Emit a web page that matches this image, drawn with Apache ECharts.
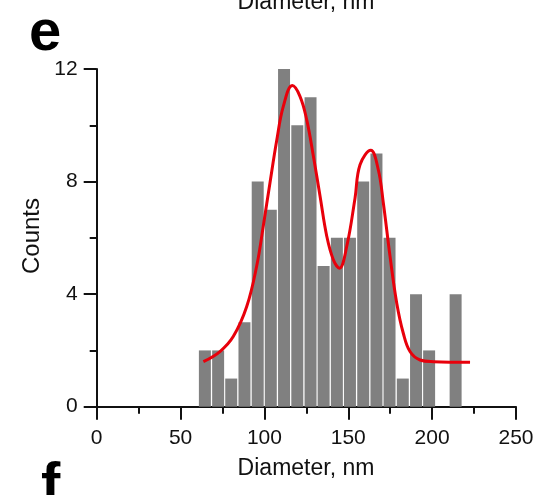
<!DOCTYPE html>
<html>
<head>
<meta charset="utf-8">
<script src="https://cdn.jsdelivr.net/npm/echarts@6/dist/echarts.min.js"></script>
<style>
  html, body { margin: 0; padding: 0; background: #fff; }
  #chart { width: 539px; height: 495px; }
</style>
</head>
<body>
<div id="chart"></div>
<script>
// histogram bins (nm) and counts
var binCenters = [64.5, 72.4, 80.2, 88.1, 96.0, 103.8, 111.7, 119.6, 127.5, 135.3,
  143.2, 151.0, 158.9, 166.8, 174.6, 182.5, 190.4, 198.2, 206.1, 214.0]
var counts = [2, 2, 1, 3, 8, 7, 12, 10, 11, 5, 6, 6, 8, 9, 6, 1, 4, 2, 0, 4]
var binWidth = 7.86

// fitted curve
var fitX = [63.6, 73.5, 81.5, 89.4, 95.4, 99.4, 103.3, 107.3, 111.3, 116.6, 121.2, 125.2,
  129.2, 133.2, 137.2, 141.1, 144.7, 149.1, 154.0, 157.0, 163.4, 167.9, 170.9, 174.9,
  178.9, 182.8, 186.8, 192.8, 200.7, 222.6]
var fitY = [1.60, 1.96, 2.50, 3.55, 5.0, 6.45, 7.95, 9.45, 10.68, 11.41, 11.03, 10.2,
  8.9, 7.47, 6.05, 5.22, 4.92, 5.7, 7.4, 8.6, 9.11, 8.42, 7.24, 5.34,
  3.68, 2.61, 1.96, 1.66, 1.60, 1.58]

var xTicks = [0, 50, 100, 150, 200, 250]
var yTicks = [0, 4, 8, 12]

var chart = echarts.init(document.getElementById('chart'))

var font = 'Liberation Sans, Arial, sans-serif'
var axisColor = '#111'

var option = {
  animation: false,
  backgroundColor: '#fff',
  grid: { left: 96.7, right: 23, top: 69, bottom: 88.3 },
  xAxis: {
    type: 'value',
    min: xTicks[0],
    max: xTicks[xTicks.length - 1],
    interval: 50,
    axisLine: { onZero: false, lineStyle: { color: axisColor, width: 2 } },
    axisTick: { length: 13, lineStyle: { color: axisColor, width: 2 } },
    minorTick: { show: true, splitNumber: 2, length: 7, lineStyle: { color: axisColor, width: 2 } },
    splitLine: { show: false },
    axisLabel: { margin: 21, color: '#111', fontSize: 21, fontFamily: font }
  },
  yAxis: {
    type: 'value',
    min: yTicks[0],
    max: yTicks[yTicks.length - 1],
    interval: 4,
    axisLine: { show: true, onZero: false, lineStyle: { color: axisColor, width: 2 } },
    axisTick: { show: true, length: 13, lineStyle: { color: axisColor, width: 2 } },
    minorTick: { show: true, splitNumber: 2, length: 7, lineStyle: { color: axisColor, width: 2 } },
    splitLine: { show: false },
    axisLabel: { margin: 19, color: '#111', fontSize: 21, fontFamily: font }
  },
  graphic: [
    {
      type: 'text', x: 306, y: -9,
      style: { text: 'Diameter, nm', font: '23px ' + font, fill: '#111', align: 'center' }
    },
    {
      type: 'text', x: 29, y: 5,
      style: { text: 'e', font: 'bold 58px ' + font, fill: '#000' }
    },
    {
      type: 'text', x: 32, y: 236, rotation: Math.PI / 2,
      style: { text: 'Counts', font: '24px ' + font, fill: '#111', align: 'center', verticalAlign: 'middle' }
    },
    {
      type: 'text', x: 306, y: 469,
      style: { text: 'Diameter, nm', font: '23px ' + font, fill: '#111', align: 'center', verticalAlign: 'middle' }
    },
    {
      type: 'text', x: 41, y: 458,
      style: { text: 'f', font: 'bold 58px ' + font, fill: '#000' }
    }
  ],
  series: [
    {
      type: 'custom',
      data: binCenters.map(function (c, i) { return [c, counts[i]] }),
      encode: { x: 0, y: 1 },
      renderItem: function (params, api) {
        var c = api.value(0)
        var n = api.value(1)
        var p0 = api.coord([c - binWidth / 2, n])
        var p1 = api.coord([c + binWidth / 2, 0])
        return {
          type: 'rect',
          shape: { x: p0[0] + 0.6, y: p0[1], width: p1[0] - p0[0] - 1.2, height: p1[1] - p0[1] },
          style: { fill: '#808080' }
        }
      },
      z: 1
    },
    {
      type: 'line',
      data: fitX.map(function (x, i) { return [x, fitY[i]] }),
      smooth: 0.4,
      showSymbol: false,
      lineStyle: { color: '#e8000b', width: 3 },
      z: 2
    }
  ]
}

chart.setOption(option)
</script>
</body>
</html>
